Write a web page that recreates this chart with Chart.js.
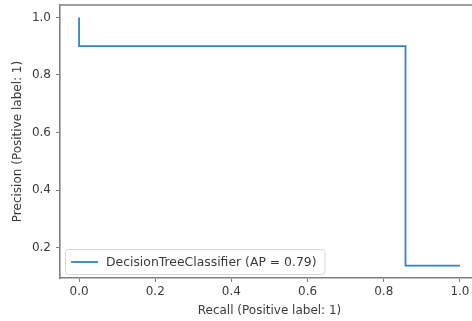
<!DOCTYPE html>
<html>
<head>
<meta charset="utf-8">
<script src="https://cdn.jsdelivr.net/npm/chart.js@4/dist/chart.umd.min.js"></script>
<style>
  html, body { margin: 0; padding: 0; background: #fff; overflow: hidden; }
  #wrap { width: 472px; height: 321px; overflow: hidden; position: relative; }
  #box { width: 480px; height: 321px; position: absolute; left: 0; top: 0; }
</style>
</head>
<body>
<div id="wrap"><div id="box"><canvas id="c"></canvas></div></div>
<script>
// Precision-recall curve (step-post), recall descending as returned by sklearn
const recall = [1.0, 0.857, 0.0];
const precision = [0.138, 0.9, 1.0];
const seriesLabel = 'DecisionTreeClassifier (AP = 0.79)';
const xTicks = [0.0, 0.2, 0.4, 0.6, 0.8, 1.0];
const yTicks = [0.2, 0.4, 0.6, 0.8, 1.0];
const xTitle = 'Recall (Positive label: 1)';
const yTitle = 'Precision (Positive label: 1)';

const FONT = 'DejaVu Sans';
const FS = 12;
const LEGEND_FS = 12.4;
const TEXT = '#3a3a3a';
const SPINE = '#7f7f7f';
const LINE = '#3283c4';

// top spine, like a matplotlib axes frame
const frame = {
  id: 'frame',
  afterDraw(chart) {
    const {ctx, chartArea: a} = chart;
    ctx.save();
    ctx.strokeStyle = SPINE;
    ctx.lineWidth = 1.6;
    ctx.beginPath();
    ctx.moveTo(a.left, a.top);
    ctx.lineTo(a.right, a.top);
    ctx.stroke();
    ctx.restore();
  }
};

// legend box in the lower-left corner of the axes
const innerLegend = {
  id: 'innerLegend',
  afterDraw(chart) {
    const {ctx, chartArea: a} = chart;
    const ds = chart.data.datasets[0];
    ctx.save();
    ctx.font = LEGEND_FS + 'px "' + FONT + '"';
    const tw = ctx.measureText(ds.label).width;
    const x = a.left + 5, h = 25, y = a.bottom - 4 - h;
    const w = 41 + tw + 8;
    ctx.fillStyle = 'rgba(255,255,255,0.85)';
    ctx.strokeStyle = '#d6d6d6';
    ctx.lineWidth = 1;
    ctx.beginPath();
    ctx.roundRect(x + 0.5, y + 0.5, w, h, 3);
    ctx.fill();
    ctx.stroke();
    ctx.strokeStyle = ds.borderColor;
    ctx.lineWidth = 1.8;
    ctx.beginPath();
    ctx.moveTo(x + 6, y + h / 2 + 0.5);
    ctx.lineTo(x + 33, y + h / 2 + 0.5);
    ctx.stroke();
    ctx.fillStyle = TEXT;
    ctx.textBaseline = 'middle';
    ctx.fillText(ds.label, x + 41, y + h / 2 + 1);
    ctx.restore();
  }
};

const fmt = v => Number(v).toFixed(1);

new Chart(document.getElementById('c'), {
  type: 'line',
  data: {
    datasets: [{
      label: seriesLabel,
      data: recall.map((r, i) => ({x: r, y: precision[i]})),
      borderColor: LINE,
      borderWidth: 1.8,
      stepped: 'before',
      pointRadius: 0,
      fill: false
    }]
  },
  options: {
    responsive: true,
    maintainAspectRatio: false,
    animation: false,
    layout: { padding: { top: 5, right: 1, left: 0, bottom: 0 } },
    plugins: { legend: { display: false }, tooltip: { enabled: false } },
    scales: {
      x: {
        type: 'linear',
        min: -0.05,
        max: 1.05,
        afterBuildTicks: s => { s.ticks = xTicks.map(v => ({value: v})); },
        afterFit: s => { s.height = 43; s.paddingLeft = 0; s.paddingRight = 0; },
        ticks: { callback: fmt, color: TEXT, font: {family: FONT, size: FS}, padding: 3, maxRotation: 0, autoSkip: false },
        grid: { drawOnChartArea: false, drawTicks: true, tickLength: 4, color: SPINE, tickWidth: 1 },
        border: { display: true, color: SPINE, width: 1.6 },
        title: { display: true, text: xTitle, color: TEXT, font: {family: FONT, size: FS}, padding: {top: 0, bottom: 3} }
      },
      y: {
        type: 'linear',
        min: 0.0949,
        max: 1.0431,
        afterBuildTicks: s => { s.ticks = yTicks.map(v => ({value: v})); },
        afterFit: s => { s.width = 60; s.paddingTop = 0; s.paddingBottom = 0; },
        ticks: { callback: fmt, color: TEXT, font: {family: FONT, size: FS}, padding: 5, autoSkip: false },
        grid: { drawOnChartArea: false, drawTicks: true, tickLength: 4, color: SPINE, tickWidth: 1 },
        border: { display: true, color: SPINE, width: 1.6 },
        title: { display: true, text: yTitle, color: TEXT, font: {family: FONT, size: FS}, padding: {top: 11, bottom: 0} }
      }
    }
  },
  plugins: [frame, innerLegend]
});
</script>
</body>
</html>
